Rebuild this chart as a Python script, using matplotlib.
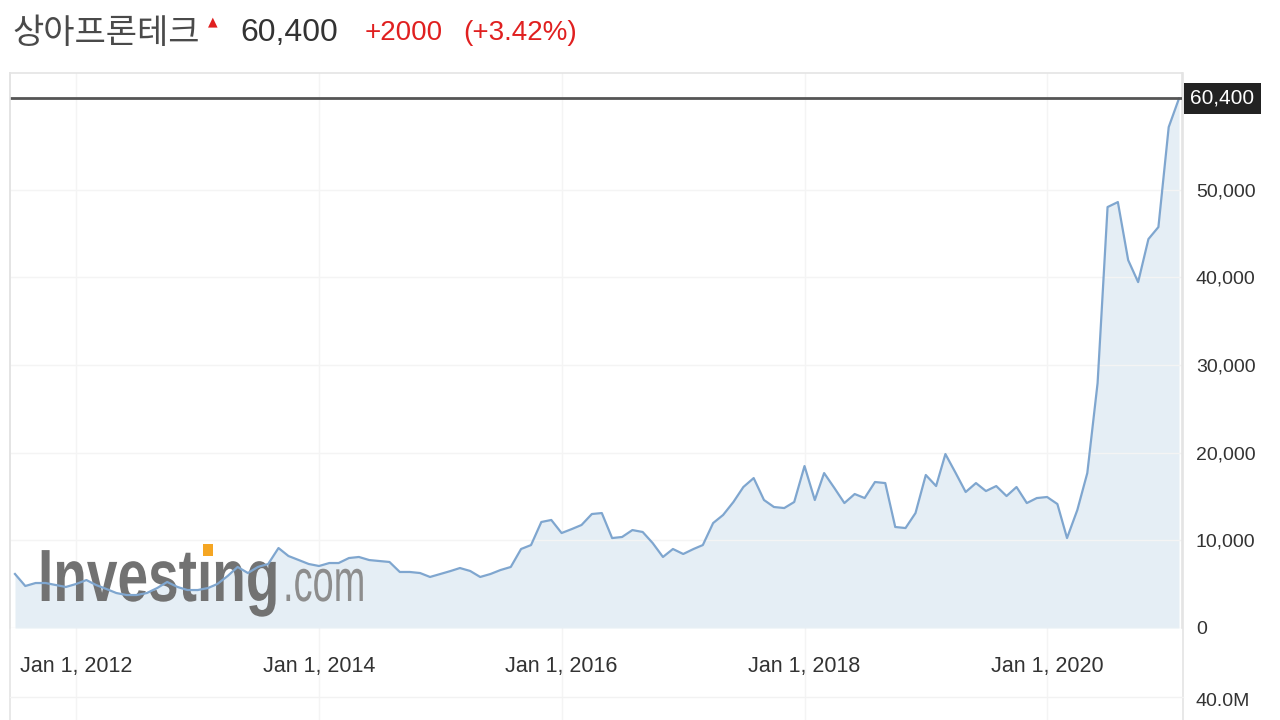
import matplotlib
matplotlib.use('Agg')
import matplotlib.pyplot as plt
import matplotlib.dates as mdates
import matplotlib.ticker as ticker
from matplotlib.lines import Line2D
from matplotlib.patches import PathPatch, Rectangle
from matplotlib.textpath import TextPath
from matplotlib.font_manager import FontProperties
from matplotlib.transforms import Affine2D, blended_transform_factory
import numpy as np
import pandas as pd

plt.rcParams['font.family'] = ['Liberation Sans', 'Noto Sans CJK KR', 'DejaVu Sans']

# monthly closes, Jul 2011 .. Feb 2021
start_month = '2011-07-01'
closes = [
    6160, 4790, 5130, 5130, 4900, 4680,                                         # 2011 H2
    5020, 5470, 4900, 4450, 3990, 3760, 3760, 3990, 4560, 5250, 4680, 4330,     # 2012
    4330, 4560, 5020, 5930, 6960, 6270, 6960, 7300, 9120, 8210, 7750, 7300,     # 2013
    7070, 7410, 7410, 7980, 8100, 7750, 7640, 7530, 6390, 6390, 6270, 5820,     # 2014
    6160, 6500, 6840, 6500, 5820, 6160, 6610, 6960, 9010, 9460, 12090, 12320,   # 2015
    10830, 11290, 11750, 13000, 13110, 10260, 10380, 11170, 10950, 9690, 8100, 9010,  # 2016
    8440, 9010, 9460, 11970, 12890, 14370, 16080, 17100, 14600, 13800, 13680, 14370,  # 2017
    18470, 14600, 17670, 15960, 14250, 15280, 14820, 16650, 16530, 11520, 11400, 13110,  # 2018
    17450, 16190, 19840, 17670, 15510, 16530, 15620, 16190, 15050, 16080, 14250, 14820,  # 2019
    14940, 14140, 10260, 13460, 17670, 27940, 48010, 48580, 41960, 39450, 44360, 45730,  # 2020
    57130, 60400,                                                               # 2021
]
y_ticks = [0, 10000, 20000, 30000, 40000, 50000]
x_ticks = ['2012-01-01', '2014-01-01', '2016-01-01', '2018-01-01', '2020-01-01']

name = '상아프론테크'
last_price = '60,400'
change = '+2000'
change_pct = '(+3.42%)'

dates = pd.date_range(start_month, periods=len(closes), freq='MS')
values = np.array(closes)

W, H = 1280, 720
fig = plt.figure(figsize=(12.8, 7.2), dpi=100)
ax = fig.add_axes([10 / W, (H - 628) / H, 1172 / W, 555 / H])

line_c = '#7fa6cf'
fill_c = '#e5eef5'
grid_c = '#f4f4f4'
frame_c = '#e4e4e4'

ax.fill_between(dates, values, 0, color=fill_c, lw=0, zorder=1)
ax.plot(dates, values, color=line_c, lw=1.6, zorder=3)
ax.axhline(values[-1], color='#555555', lw=2, zorder=4)

# y axis on the right
ax.yaxis.tick_right()
ax.set_yticks(y_ticks)
ax.yaxis.set_major_formatter(ticker.FuncFormatter(lambda v, p: f'{int(v):,}'))
ax.tick_params(axis='y', length=0, pad=10, labelsize=14, labelcolor='#333333')

# x axis dates
tick_dates = pd.to_datetime(x_ticks)
ax.set_xticks(tick_dates)
def fmt_date(x, pos):
    d = mdates.num2date(x)
    return d.strftime('%b ') + str(d.day) + d.strftime(', %Y')
ax.xaxis.set_major_formatter(ticker.FuncFormatter(fmt_date))
ax.tick_params(axis='x', length=0, pad=20, labelsize=15.5, labelcolor='#333333')

ax.grid(axis='y', color=grid_c, lw=1, zorder=0)
for d in tick_dates:
    ax.axvline(d, ymin=-0.17, ymax=1, color=grid_c, lw=1, zorder=0, clip_on=False)

ax.spines['bottom'].set_visible(False)
for s in ['top', 'left', 'right']:
    ax.spines[s].set_color(frame_c)
    ax.spines[s].set_linewidth(1.2)

# frame lines running through the date strip and volume pane
fig.add_artist(Line2D([10 / W, 10 / W], [0, 1 - 73 / H], color=frame_c, lw=1.2))
fig.add_artist(Line2D([1183 / W, 1183 / W], [0, 1 - 73 / H], color=frame_c, lw=1.2))
fig.add_artist(Line2D([10 / W, 1183 / W], [1 - 697 / H, 1 - 697 / H], color='#f2f2f2', lw=1))
fig.text(1195 / W, 1 - 702 / H, '40.0M', fontsize=14, color='#333333', va='center')

# last price tag
tr = blended_transform_factory(ax.transAxes, ax.transData)
ax.text(1.007, values[-1], last_price, transform=tr, ha='left', va='center',
        fontsize=15, color='white', zorder=6, clip_on=False,
        bbox=dict(boxstyle='square,pad=0.3', facecolor='#222222', edgecolor='none'))

# watermark
bold = FontProperties(family='Liberation Sans', weight='bold')
reg = FontProperties(family='Liberation Sans')
p1 = TextPath((0, 0), 'Investıng', size=1, prop=bold)
p2 = TextPath((0, 0), '.com', size=1, prop=reg)
ax.add_patch(PathPatch(p1, transform=Affine2D().scale(55, 74).translate(38, H - 601),
                       facecolor='#727272', edgecolor='none', zorder=2, clip_on=False))
ax.add_patch(PathPatch(p2, transform=Affine2D().scale(38, 60).translate(283, H - 601),
                       facecolor='#8d8d8d', edgecolor='none', zorder=2, clip_on=False))
ax.add_patch(Rectangle((203, H - 556), 10, 12, transform=Affine2D(),
                       facecolor='#f5a623', edgecolor='none', zorder=2, clip_on=False))
ax.set_ylim(0, 63300)
ax.set_xlim(pd.Timestamp('2011-06-16'), pd.Timestamp('2021-02-10'))

# header
fig.text(12 / W, 1 - 33 / H, name, fontsize=24.5, color='#4a4a4a', va='center',
         family=['Noto Sans CJK KR', 'DejaVu Sans'], fontweight='light')
fig.text(213 / W, 1 - 22 / H, '▲', fontsize=9, color='#e02020', ha='center', va='center',
         family='DejaVu Sans')
fig.text(240 / W, 1 - 33 / H, last_price, fontsize=23, color='#333333', va='center')
fig.text(365 / W, 1 - 33 / H, change, fontsize=20, color='#e02020', va='center')
fig.text(463 / W, 1 - 33 / H, change_pct, fontsize=20, color='#e02020', va='center')

fig.savefig('out.png', dpi=100)
